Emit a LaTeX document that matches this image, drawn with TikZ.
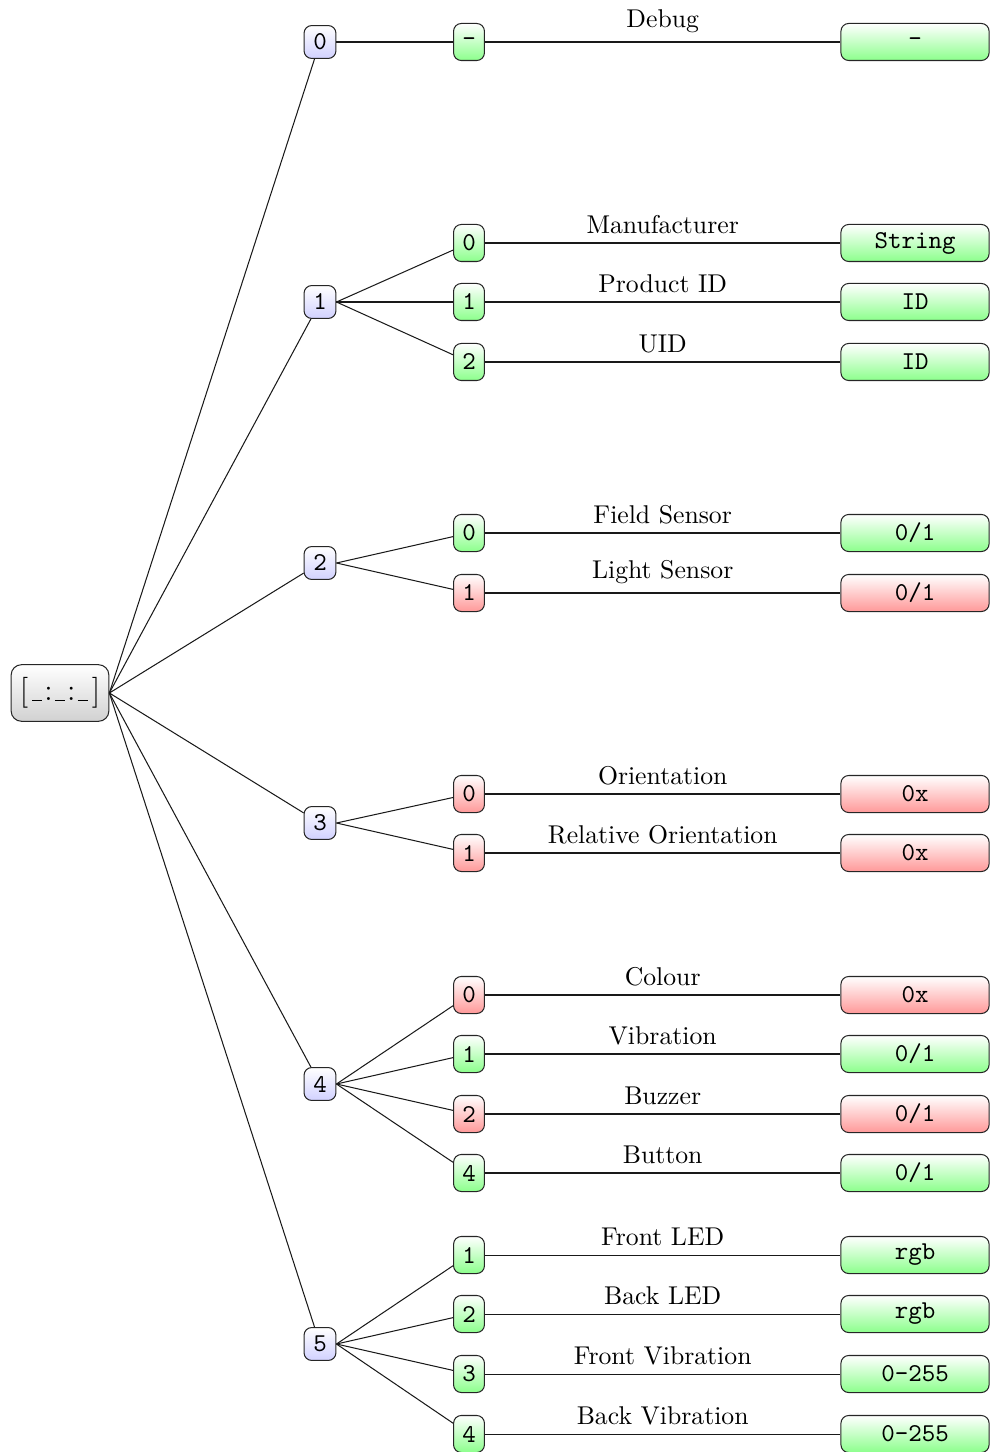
\documentclass[tikz,border=0pt]{standalone}
\usetikzlibrary{shadings}
\colorlet{gfill}{green!45}
\colorlet{rfill}{red!40}
\colorlet{bfill}{blue!18}
\tikzset{
  rootbox/.style={draw=black!85, rounded corners=4pt, top color=white, bottom color=black!18, minimum width=38pt, minimum height=22pt, inner sep=0pt},
  lvlone/.style={draw=black!85, rounded corners=3pt, top color=white, bottom color=bfill, minimum width=12.4pt, minimum height=12.8pt, inner sep=0pt, font=\ttfamily},
  lvltwo/.style={draw=black!85, rounded corners=3pt, top color=white, bottom color=#1, minimum width=12pt, minimum height=14.4pt, inner sep=0pt, font=\ttfamily},
  leaf/.style={draw=black!85, rounded corners=3pt, top color=white, bottom color=#1, minimum width=57.6pt, minimum height=14.4pt, inner sep=0pt, font=\ttfamily},
  edge/.style={draw=black!90, line width=0.4pt},
}
\newcommand{\mkrow}[7]{%
  \node[lvltwo=#5] (#2) at (469,#3) {#4};
  \node[leaf=#5] (#2v) at (915,#3) {#7};
  \draw[edge] (#1.east) -- (#2);
  \draw[edge] (#2.east) -- node[above] {#6} (#2v.west);
}
\newcommand{\slotline}{\rule{4pt}{0.45pt}}
\begin{document}
\begin{tikzpicture}[x=0.3889pt, y=-0.3889pt]
\useasboundingbox (0,0) rectangle (992,1452);
\node[rootbox] (root) at (60,693) {\large$\bigl[$\kern1.5pt\slotline\kern0.8pt:\kern0.8pt\slotline\kern0.8pt:\kern0.8pt\slotline\kern1.5pt$\bigr]$};
\node[lvlone] (a) at (320,42) {0};
\node[lvlone] (b) at (320,302) {1};
\node[lvlone] (c) at (320,563) {2};
\node[lvlone] (d) at (320,823) {3};
\node[lvlone] (e) at (320,1084) {4};
\node[lvlone] (f) at (320,1344) {5};
\foreach \n in {a,b,c,d,e,f} \draw[edge] (root.east) -- (\n);
\mkrow{a}{a0}{42}{-}{gfill}{Debug}{-}
\mkrow{b}{b0}{243}{0}{gfill}{Manufacturer}{String}
\mkrow{b}{b1}{302}{1}{gfill}{Product ID}{ID}
\mkrow{b}{b2}{362}{2}{gfill}{UID}{ID}
\mkrow{c}{c0}{533}{0}{gfill}{Field Sensor}{0/1}
\mkrow{c}{c1}{593}{1}{rfill}{Light Sensor}{0/1}
\mkrow{d}{d0}{794}{0}{rfill}{Orientation}{0x}
\mkrow{d}{d1}{853}{1}{rfill}{Relative Orientation}{0x}
\mkrow{e}{e0}{995}{0}{rfill}{Colour}{0x}
\mkrow{e}{e1}{1054}{1}{gfill}{Vibration}{0/1}
\mkrow{e}{e2}{1114}{2}{rfill}{Buzzer}{0/1}
\mkrow{e}{e4}{1173}{4}{gfill}{Button}{0/1}
\mkrow{f}{f1}{1255}{1}{gfill}{Front LED}{rgb}
\mkrow{f}{f2}{1314}{2}{gfill}{Back LED}{rgb}
\mkrow{f}{f3}{1374}{3}{gfill}{Front Vibration}{0-255}
\mkrow{f}{f4}{1434}{4}{gfill}{Back Vibration}{0-255}
\end{tikzpicture}
\end{document}
